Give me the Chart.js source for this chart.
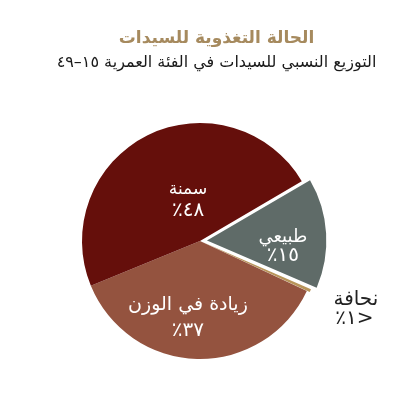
<!DOCTYPE html>
<html>
<head>
<meta charset="utf-8">
<script src="https://cdn.jsdelivr.net/npm/chart.js@4"></script>
<style>
  html, body { margin: 0; padding: 0; background: #ffffff; }
  #wrap { position: relative; width: 413px; height: 411px; overflow: hidden; }
  canvas { display: block; position: absolute; left: 0; top: 0; }
  .ttl { position: absolute; left: 10px; width: 413px; text-align: center; direction: rtl;
         font-family: "DejaVu Sans", sans-serif; white-space: nowrap; }
  #title { top: 26px; line-height: 22px; font-size: 17px; font-weight: bold; color: #a68a5e; }
  #subtitle { top: 51px; line-height: 22px; font-size: 16px; color: #1a1a1a; }
</style>
</head>
<body>
<div id="wrap">
<canvas id="c" width="413" height="411" dir="rtl"></canvas>
<div class="ttl" id="title"></div>
<div class="ttl" id="subtitle"></div>
</div>
<script>
const titleText = 'الحالة التغذوية للسيدات';
const subtitleText = 'التوزيع النسبي للسيدات في الفئة العمرية ١٥–٤٩';
const categories = ['طبيعي', 'نحافة', 'زيادة في الوزن', 'سمنة'];
const values = [15, 0.5, 37, 48];
const valueLabels = ['١٥٪', '<١٪', '٣٧٪', '٤٨٪'];

document.getElementById('title').textContent = titleText;
document.getElementById('subtitle').textContent = subtitleText;

const sliceColors = ['#5f6b68', '#b8955a', '#94533f', '#650f0b'];
// Chart.js v4 draws an arc shifted by offset/4 pixels
const sliceOffsets = [28, 6, 0, 0];
// label placement per slice
const labelStyle = [
  { shift: 8, frac: 0.645, gap: 19, color: '#ffffff', size: 18, pctSize: 20, pctSpacing: 3 },
  { shift: -0.5, frac: 1.43, gap: 19, color: '#222222', size: 20, pctSize: 20, pctSpacing: 3 },
  { shift: 7.5, frac: 0.66, gap: 25, color: '#ffffff', size: 19, pctSize: 20, pctSpacing: 3 },
  { shift: 10, frac: 0.36, gap: 21, color: '#ffffff', size: 17, pctSize: 20, pctSpacing: 3 }
];

const sliceLabels = {
  id: 'sliceLabels',
  afterDatasetsDraw(chart) {
    const ctx = chart.ctx;
    const meta = chart.getDatasetMeta(0);
    ctx.save();
    ctx.direction = 'rtl';
    ctx.textAlign = 'center';
    ctx.textBaseline = 'middle';
    meta.data.forEach((arc, i) => {
      const p = arc.getProps(['x', 'y', 'startAngle', 'endAngle', 'outerRadius'], true);
      const st = labelStyle[i];
      const mid = (p.startAngle + p.endAngle) / 2;
      const off = (arc.options.offset || 0) / 4;
      const cx = p.x + Math.cos(mid) * off;
      const cy = p.y + Math.sin(mid) * off;
      const a = mid + st.shift * Math.PI / 180;
      const r = p.outerRadius * st.frac;
      const x = cx + Math.cos(a) * r;
      const y = cy + Math.sin(a) * r;
      ctx.fillStyle = st.color;
      ctx.font = st.size + 'px "DejaVu Sans", sans-serif';
      ctx.letterSpacing = '0px';
      ctx.fillText(categories[i], x, y - st.gap / 2);
      ctx.font = st.pctSize + 'px "DejaVu Sans", sans-serif';
      ctx.letterSpacing = st.pctSpacing + 'px';
      ctx.fillText(valueLabels[i], x, y + st.gap / 2);
    });
    ctx.restore();
  }
};

new Chart(document.getElementById('c'), {
  type: 'pie',
  data: {
    labels: categories,
    datasets: [{
      data: values,
      backgroundColor: sliceColors,
      borderWidth: 0,
      offset: sliceOffsets,
      hoverOffset: 0
    }]
  },
  options: {
    responsive: false,
    devicePixelRatio: 1,
    animation: false,
    rotation: 59.6,
    layout: { padding: { left: 0, right: 13, top: 109, bottom: 38 } },
    plugins: {
      legend: { display: false },
      tooltip: { enabled: false },
      title: { display: false },
      subtitle: { display: false }
    }
  },
  plugins: [sliceLabels]
});
</script>
</body>
</html>
